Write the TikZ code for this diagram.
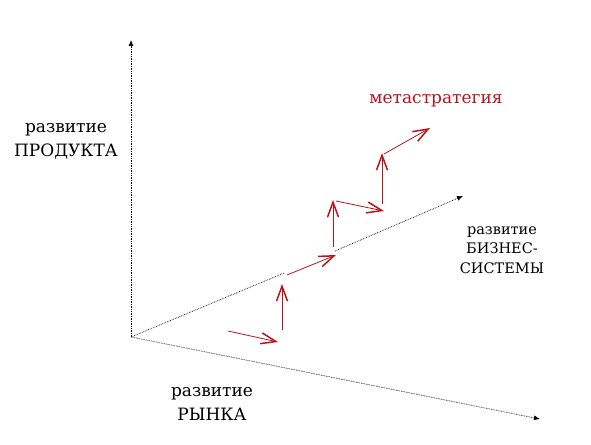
\documentclass[tikz,border=0pt]{standalone}
\usepackage{fontspec}
\setmainfont{DejaVu Serif}
\usetikzlibrary{positioning, arrows.meta}

\definecolor{stratred}{RGB}{185,20,28}

\tikzset{
    axis/.style={black, densely dotted, line width=.7pt, -{Latex[length=6pt,width=5pt]}},
    axispart/.style={black, densely dotted, line width=.7pt},
    stepline/.style={stratred, line width=.8pt, -{Straight Barb[length=15pt,width=11pt,line width=1.5pt]}},
    axislabel/.style={align=center, font=\fontsize{17}{24}\selectfont}
}

\begin{document}
\begin{tikzpicture}[x=1pt, y=-1pt]
    \useasboundingbox (0, 0) rectangle (591, 444);

    \coordinate (origin) at (131, 337);
    \coordinate (prodend) at (131, 40);
    \coordinate (marketend) at (540, 419);
    \coordinate (bizgap1) at (284, 273);
    \coordinate (bizgap2) at (335, 251);
    \coordinate (bizend) at (463, 196);

    \node (product) [axislabel] at (66, 141) {развитие\\ПРОДУКТА};
    \node (market) [axislabel] at (212, 404) {развитие\\РЫНКА};
    \node (business) [axislabel, font=\fontsize{14.5}{19.5}\selectfont] at (502, 250) {развитие\\БИЗНЕС-\\СИСТЕМЫ};
    \node (meta) [text=stratred, font=\fontsize{17}{24}\selectfont] at (436, 101) {метастратегия};

    \draw [axis] (origin) -- (prodend);
    \draw [axis] (origin) -- (marketend);
    \draw [axispart] (origin) -- (bizgap1);
    \draw [axis] (bizgap2) -- (bizend);

    % steps of the strategy
    \foreach \i/\sx/\sy/\ex/\ey in {1/228/331/278/342, 2/282/330/282/284, 3/287/275/336/255,
                                    4/333/247/333/200, 5/336/201/384/211, 6/382/204/382/153,
                                    7/384/154/430/128} {
        \coordinate (s\i) at (\sx, \sy);
        \coordinate (e\i) at (\ex, \ey);
        \draw [stepline] (s\i) -- (e\i);
    }
\end{tikzpicture}
\end{document}
